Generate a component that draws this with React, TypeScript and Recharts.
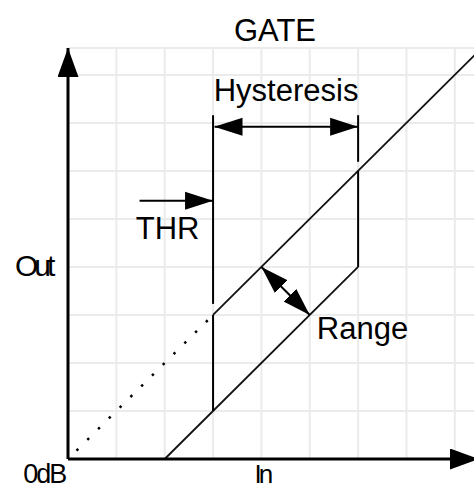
import React from 'react';
import { LineChart, Line, XAxis, YAxis, CartesianGrid, ReferenceDot } from 'recharts';

const gridTicks = [1, 2, 3, 4, 5, 6, 7, 8];
const xAxisLine = [{ x: 0, y: 0 }, { x: 8.5, y: 0 }];
const yAxisLine = [{ x: 0, y: 0 }, { x: 0, y: 8.56 }];
const dottedUnity = [{ x: 0, y: 0 }, { x: 3, y: 3 }];
const upperCurve = [{ x: 3, y: 3 }, { x: 8.5, y: 8.5 }];
const lowerCurve = [{ x: 2, y: 0 }, { x: 6, y: 4 }];
const closeJump = [{ x: 3, y: 1 }, { x: 3, y: 3 }];
const openJump = [{ x: 6, y: 4 }, { x: 6, y: 6 }];
const thrMarker = [{ x: 3, y: 3.23 }, { x: 3, y: 7.16 }];
const hystMarker = [{ x: 6, y: 6.19 }, { x: 6, y: 7.16 }];
const hystArrow = [{ x: 3.03, y: 6.92 }, { x: 6, y: 6.92 }];
const thrArrow = [{ x: 1.48, y: 5.38 }, { x: 3, y: 5.38 }];
const rangeArrow = [{ x: 4, y: 4 }, { x: 5, y: 3 }];

const labelTexts = ['GATE', 'Hysteresis', 'THR', 'Range', 'Out', '0dB', 'In'];
const labelX = [4.28, 4.51, 2.06, 6.09, -0.72, -0.49, 4.02];
const labelY = [8.71, 7.45, 4.59, 2.5, 3.81, -0.5, -0.5];
const labelSize = [31, 31, 31, 31, 30, 27, 26];
const labelSpacing = [0, 0, 0, 0, -4, -2, -3];

const FONT = "'Liberation Sans', Arial, Helvetica, sans-serif";

const makeLabel = (text: string, size: number, spacing: number) => (props: any) => {
  const vb = props.viewBox || {};
  const cx = (vb.x ?? 0) + (vb.width ?? 0) / 2;
  const cy = (vb.y ?? 0) + (vb.height ?? 0) / 2;
  return (
    <text
      x={cx}
      y={cy}
      textAnchor="middle"
      fontFamily={FONT}
      fontSize={size}
      letterSpacing={spacing}
      fill="#000"
    >
      {text}
    </text>
  );
};

export default function App() {
  const seg = (key: string, data: any[], extra: any = {}) => (
    <Line
      key={key}
      data={data}
      dataKey="y"
      stroke="#000"
      strokeWidth={2}
      dot={false}
      activeDot={false}
      isAnimationActive={false}
      legendType="none"
      {...extra}
    />
  );
  return (
    <div style={{ position: 'absolute', left: 0, top: 0, width: 474, height: 490, overflow: 'hidden', background: '#fff' }}>
      <svg width={0} height={0} style={{ position: 'absolute' }}>
        <defs>
          <marker id="head" viewBox="0 0 28 20" refX={28} refY={10} markerWidth={28} markerHeight={20} markerUnits="userSpaceOnUse" orient="auto-start-reverse">
            <path d="M0,1 L28,10 L0,19 Z" fill="#000" />
          </marker>
          <marker id="axisHead" viewBox="0 0 29 21" refX={29} refY={10.5} markerWidth={29} markerHeight={21} markerUnits="userSpaceOnUse" orient="auto-start-reverse">
            <path d="M0,0 L29,10.5 L0,21 Z" fill="#000" />
          </marker>
        </defs>
      </svg>
      <LineChart width={479} height={490} margin={{ top: 48, right: 0, bottom: 31, left: 68 }}>
        <CartesianGrid stroke="#ebebeb" strokeWidth={2} />
        <XAxis dataKey="x" type="number" domain={[0, 8.5]} ticks={gridTicks} hide />
        <YAxis type="number" domain={[0, 8.5]} ticks={gridTicks} hide />
        {seg('dotted', dottedUnity, { strokeDasharray: '2.5 12.7', strokeDashoffset: 3.2, strokeWidth: 2.5 })}
        {seg('upper', upperCurve, { strokeWidth: 1.8, stroke: '#111' })}
        {seg('lower', lowerCurve, { strokeWidth: 1.8, stroke: '#111' })}
        {seg('close', closeJump)}
        {seg('open', openJump)}
        {seg('thrMarker', thrMarker)}
        {seg('hystMarker', hystMarker)}
        {seg('hystArrow', hystArrow, { markerStart: 'url(#head)', markerEnd: 'url(#head)' })}
        {seg('thrArrow', thrArrow, { markerEnd: 'url(#head)' })}
        {seg('rangeArrow', rangeArrow, { markerStart: 'url(#head)', markerEnd: 'url(#head)' })}
        {seg('xAxis', xAxisLine, { strokeWidth: 3, markerEnd: 'url(#axisHead)' })}
        {seg('yAxis', yAxisLine, { strokeWidth: 3, markerEnd: 'url(#axisHead)' })}
        {labelTexts.map((t, i) => (
          <ReferenceDot
            key={'lbl' + i}
            x={labelX[i]}
            y={labelY[i]}
            r={0}
            fill="none"
            stroke="none"
            ifOverflow="visible"
            label={makeLabel(t, labelSize[i], labelSpacing[i])}
          />
        ))}
      </LineChart>
    </div>
  );
}
